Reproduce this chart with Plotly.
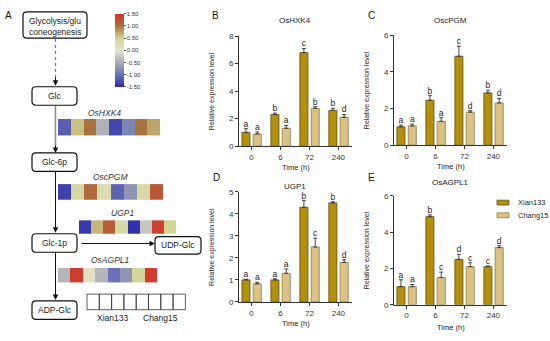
import plotly.graph_objects as go

# ---------------- data ----------------
times = ["0", "6", "72", "240"]
varieties = ["Xian133", "Chang15"]

hxk4_xian = [1.0, 2.3, 6.8, 2.6]
hxk4_xian_err = [0.27, 0.1, 0.3, 0.15]
hxk4_chang = [0.88, 1.3, 2.75, 2.1]
hxk4_chang_err = [0.15, 0.2, 0.12, 0.2]
hxk4_xian_sig = ["a", "b", "c", "b"]
hxk4_chang_sig = ["a", "a", "b", "d"]

pgm_xian = [1.0, 2.45, 4.85, 2.85]
pgm_xian_err = [0.1, 0.25, 0.55, 0.15]
pgm_chang = [1.05, 1.3, 1.8, 2.3]
pgm_chang_err = [0.1, 0.2, 0.08, 0.25]
pgm_xian_sig = ["a", "b", "c", "b"]
pgm_chang_sig = ["a", "a", "d", "d"]

ugp_xian = [1.0, 1.0, 4.3, 4.5]
ugp_xian_err = [0.03, 0.05, 0.3, 0.05]
ugp_chang = [0.82, 1.3, 2.5, 1.8]
ugp_chang_err = [0.07, 0.2, 0.4, 0.12]
ugp_xian_sig = ["a", "a", "b", "b"]
ugp_chang_sig = ["a", "a", "c", "d"]

agp_xian = [1.0, 4.85, 2.5, 2.1]
agp_xian_err = [0.38, 0.1, 0.28, 0.04]
agp_chang = [1.0, 1.5, 2.1, 3.15]
agp_chang_err = [0.12, 0.3, 0.22, 0.1]
agp_xian_sig = ["a", "b", "d", "c"]
agp_chang_sig = ["a", "c", "c", "d"]

# heatmap z-scores (Xian133 0,6,72,240 then Chang15 0,6,72,240)
heat_hxk4 = [-1.15, 0.6, 1.0, -0.45, -1.3, -0.85, 1.0, 0.75]
heat_pgm = [-1.35, 0.4, 1.05, 0.25, -1.1, -0.7, 0.35, 1.2]
heat_ugp = [-1.4, 0.65, 1.15, 0.35, -1.45, -0.25, 1.35, 0.5]
heat_agp = [-0.4, 1.4, 0.1, -0.4, -1.0, -0.7, 0.45, 1.4]
cbar_ticks = [1.5, 1.0, 0.5, 0.0, -0.5, -1.0, -1.5]

# ---------------- helpers ----------------
W, H = 550, 341
FONT = "Liberation Sans, Arial, sans-serif"
XIAN_C, CHANG_C = "#B38F10", "#DCC284"
XIAN_L, CHANG_L = "#65520C", "#8E7A45"


def fx(p):
    return p / W


def fy(p):
    return 1 - p / H


fig = go.Figure()
shapes = []
annos = []


def text(x, y, s, size=8, color="#222", angle=0, italic=False, anchor="center"):
    annos.append(dict(x=fx(x), y=fy(y), xref="paper", yref="paper", text=s,
                      showarrow=False, textangle=angle, xanchor=anchor, yanchor="middle",
                      font=dict(family=FONT, size=size, color=color,
                                style="italic" if italic else "normal")))


# ---------------- bar panels ----------------
panels = [
    dict(lab="B", title="OsHXK4", xv=hxk4_xian, xe=hxk4_xian_err, cv=hxk4_chang, ce=hxk4_chang_err,
         xs=hxk4_xian_sig, cs=hxk4_chang_sig, xd=(239, 352), yd=(33, 146), ymax=8, dt=2,
         tpos=(295, 17), labpos=(215, 12), xt=168, yt=212),
    dict(lab="C", title="OscPGM", xv=pgm_xian, xe=pgm_xian_err, cv=pgm_chang, ce=pgm_chang_err,
         xs=pgm_xian_sig, cs=pgm_chang_sig, xd=(394, 507), yd=(32, 145), ymax=6, dt=2,
         tpos=(450, 17), labpos=(371, 12), xt=167, yt=367),
    dict(lab="D", title="UGP1", xv=ugp_xian, xe=ugp_xian_err, cv=ugp_chang, ce=ugp_chang_err,
         xs=ugp_xian_sig, cs=ugp_chang_sig, xd=(239, 352), yd=(193, 306), ymax=5, dt=1,
         tpos=(295, 187), labpos=(216, 178), xt=328, yt=212),
    dict(lab="E", title="OsAGPL1", xv=agp_xian, xe=agp_xian_err, cv=agp_chang, ce=agp_chang_err,
         xs=agp_xian_sig, cs=agp_chang_sig, xd=(394, 507), yd=(197, 309), ymax=6, dt=2,
         tpos=(450, 183), labpos=(371, 178), xt=332, yt=367),
]

pos = list(range(len(times)))
W_BAR = 0.28
OFF_X, OFF_C = -0.33, 0.06
layout_axes = {}
for k, p in enumerate(panels, start=1):
    xa, ya = f"x{k}", f"y{k}"
    for vals, errs, sig, name, col, lc, off in [
        (p["xv"], p["xe"], p["xs"], varieties[0], XIAN_C, XIAN_L, OFF_X),
        (p["cv"], p["ce"], p["cs"], varieties[1], CHANG_C, CHANG_L, OFF_C),
    ]:
        fig.add_trace(go.Bar(
            x=pos, y=vals, width=W_BAR, offset=off, name=name, showlegend=False,
            marker=dict(color=col, line=dict(color=lc, width=0.8)),
            error_y=dict(type="data", array=errs, arrayminus=[0] * len(errs), symmetric=False,
                         color="#333", thickness=0.9, width=2),
            xaxis=xa, yaxis=ya))
        fig.add_trace(go.Scatter(
            x=[i + off + W_BAR / 2 for i in pos], y=[v + e for v, e in zip(vals, errs)],
            text=sig, mode="text", textposition="top center", showlegend=False,
            textfont=dict(family=FONT, size=8.5, color="#222"), cliponaxis=False,
            xaxis=xa, yaxis=ya, hoverinfo="skip"))
    sfx = "" if k == 1 else str(k)
    layout_axes[f"xaxis{sfx}"] = dict(
        domain=[fx(p["xd"][0]), fx(p["xd"][1])], range=[-0.43, 3.47], anchor=ya,
        tickvals=pos, ticktext=times, showline=True, linecolor="#333", linewidth=1,
        ticks="outside", ticklen=3, tickcolor="#333", showgrid=False, zeroline=False,
        tickfont=dict(family=FONT, size=8, color="#333"), fixedrange=True)
    layout_axes[f"yaxis{sfx}"] = dict(
        domain=[fy(p["yd"][1]), fy(p["yd"][0])], range=[0, p["ymax"]], anchor=xa,
        dtick=p["dt"], tick0=0, showline=True, linecolor="#333", linewidth=1,
        ticks="outside", ticklen=3, tickcolor="#333", showgrid=False, zeroline=False,
        tickfont=dict(family=FONT, size=8, color="#333"), fixedrange=True)
    text(p["tpos"][0], p["tpos"][1], p["title"], size=8)
    text(p["labpos"][0], p["labpos"][1], p["lab"], size=10, color="#111")
    text((p["xd"][0] + p["xd"][1]) / 2, p["xt"], "Time (h)", size=7.5)
    text(p["yt"], (p["yd"][0] + p["yd"][1]) / 2, "Relative expression level", size=7, angle=-90)

# legend in panel E
for yy, col, lc, name in [(204, XIAN_C, XIAN_L, varieties[0]), (217, CHANG_C, CHANG_L, varieties[1])]:
    shapes.append(dict(type="rect", xref="paper", yref="paper", x0=fx(497), x1=fx(509),
                       y0=fy(yy + 2.5), y1=fy(yy - 2.5), fillcolor=col, line=dict(color=lc, width=0.8)))
    text(516, yy, name, size=7.5, anchor="left")

# ---------------- panel A: heatmap strips ----------------
strips = [
    (heat_hxk4, "OsHXK4", (58, 160), (118, 135), (104, 112)),
    (heat_pgm, "OscPGM", (58, 163), (185, 201), (110, 178)),
    (heat_ugp, "UGP1", (79, 176), (222, 236), (122, 215)),
    (heat_agp, "OsAGPL1", (58, 157), (271, 286), (110, 263)),
]
for j, (z, name, xs, ys, lp) in enumerate(strips, start=5):
    fig.add_trace(go.Heatmap(z=[z], x=list(range(len(z))), y=[0], coloraxis="coloraxis",
                             xaxis=f"x{j}", yaxis=f"y{j}", hoverinfo="skip"))
    layout_axes[f"xaxis{j}"] = dict(domain=[fx(xs[0]), fx(xs[1])], range=[-0.5, len(z) - 0.5],
                                    anchor=f"y{j}", visible=False, fixedrange=True)
    layout_axes[f"yaxis{j}"] = dict(domain=[fy(ys[1]), fy(ys[0])], range=[-0.5, 0.5],
                                    anchor=f"x{j}", visible=False, fixedrange=True)
    text(lp[0], lp[1], name, size=8.5, color="#333", italic=True)

# ---------------- panel A: flowchart ----------------
def rrect(x0, y0, x1, y1, r=4):
    X, Y = fx, fy
    path = (f"M {X(x0 + r)},{Y(y0)} L {X(x1 - r)},{Y(y0)} Q {X(x1)},{Y(y0)} {X(x1)},{Y(y0 + r)} "
            f"L {X(x1)},{Y(y1 - r)} Q {X(x1)},{Y(y1)} {X(x1 - r)},{Y(y1)} "
            f"L {X(x0 + r)},{Y(y1)} Q {X(x0)},{Y(y1)} {X(x0)},{Y(y1 - r)} "
            f"L {X(x0)},{Y(y0 + r)} Q {X(x0)},{Y(y0)} {X(x0 + r)},{Y(y0)} Z")
    shapes.append(dict(type="path", path=path, xref="paper", yref="paper",
                       line=dict(color="#111", width=1.2), fillcolor="white"))


def arrow(xt, yt, xh, yh, color="#111"):
    annos.append(dict(x=fx(xh), y=fy(yh), xref="paper", yref="paper", ax=xt - xh, ay=yt - yh,
                      axref="pixel", ayref="pixel", showarrow=True, arrowhead=2, arrowsize=1.1,
                      arrowwidth=1, arrowcolor=color, standoff=0, text=""))


def line(x0, y0, x1, y1, color="#111", dash="solid", width=1):
    shapes.append(dict(type="line", xref="paper", yref="paper", x0=fx(x0), y0=fy(y0), x1=fx(x1),
                       y1=fy(y1), line=dict(color=color, width=width, dash=dash)))


CX = 55.5
line(CX, 36, CX, 76, color="#777", dash="dot", width=1.2)
arrow(CX, 74, CX, 84)
line(CX, 104, CX, 146, color="#888", width=1.5)
arrow(CX, 144, CX, 153)
arrow(CX, 172, CX, 235)
arrow(80, 246, 155, 246)
arrow(CX, 255, CX, 304)

rrect(23, 8, 87, 35)
text(55, 17, "Glycolysis/glu", size=8.5)
text(55, 29, "coneogenesis", size=8.5)
for (y0, y1, s) in [(85, 104, "Glc"), (153, 172, "Glc-6p"), (236, 255, "Glc-1p"), (305, 324, "ADP-Glc")]:
    rrect(32, y0, 77, y1)
    text(54.5, (y0 + y1) / 2, s, size=8.5)
rrect(155, 239, 201, 257)
text(178, 248, "UDP-Glc", size=8.5)

# legend boxes for heatmap columns
for i in range(8):
    x0 = 87 + i * 12.3
    shapes.append(dict(type="rect", xref="paper", yref="paper", x0=fx(x0), x1=fx(x0 + 12.3),
                       y0=fy(314), y1=fy(298), line=dict(color="#333", width=0.8)))
text(112, 322, "Xian133", size=8.5)
text(160, 322, "Chang15", size=8.5)
text(8, 12, "A", size=10, color="#111")

colorscale = [
    [0.0, "#2B2BA8"], [1 / 6, "#6A74B4"], [2 / 6, "#A9ABB6"], [0.5, "#E6E2CE"],
    [4 / 6, "#D2D596"], [5 / 6, "#A8723E"], [1.0, "#D7302A"],
]

fig.update_layout(
    width=W, height=H, margin=dict(l=0, r=0, t=0, b=0),
    paper_bgcolor="white", plot_bgcolor="white", showlegend=False,
    font=dict(family=FONT),
    shapes=shapes, annotations=annos,
    coloraxis=dict(
        colorscale=colorscale, cmin=-1.5, cmax=1.5,
        colorbar=dict(x=fx(115), xanchor="left", y=fy(10), yanchor="top",
                      len=73, lenmode="pixels", thickness=9, thicknessmode="pixels",
                      tickvals=cbar_ticks, ticktext=[f"{v:.2f}" for v in cbar_ticks],
                      tickfont=dict(family=FONT, size=6, color="#333"), ticks="outside",
                      ticklen=2, tickcolor="#555", outlinewidth=0, xpad=0, ypad=0)),
    **layout_axes,
)

fig.write_html("out.html", config={"displayModeBar": False},
               post_script="document.body.style.margin='0';document.body.style.padding='0';")
